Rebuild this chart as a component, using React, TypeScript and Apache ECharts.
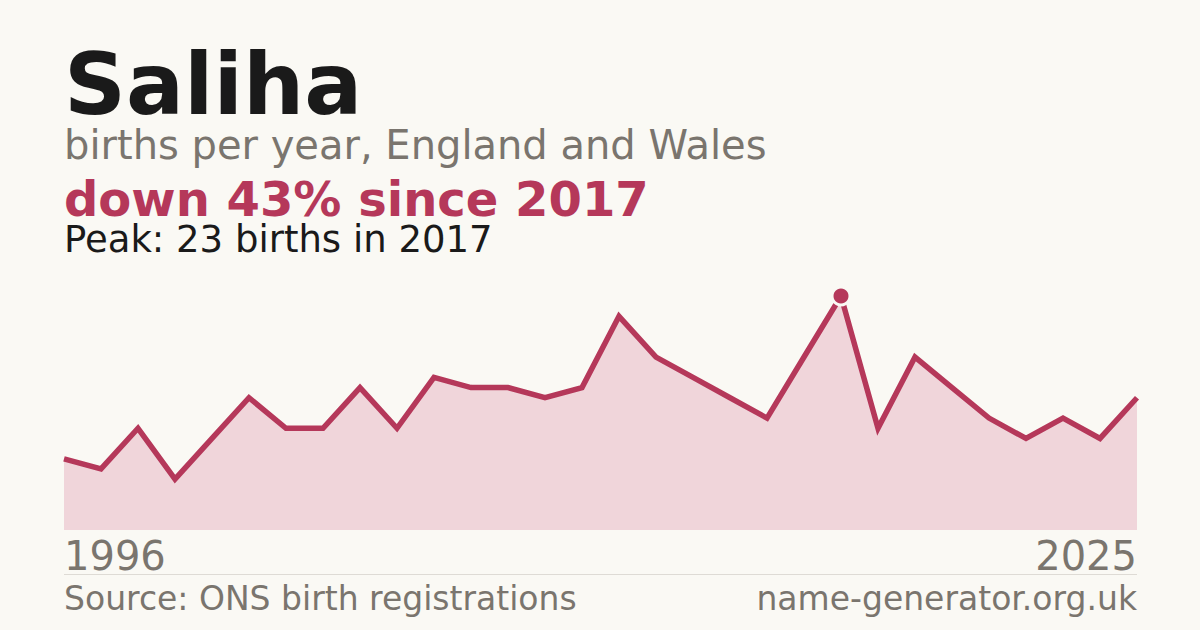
import { useEffect, useRef } from 'react'
import * as echarts from 'echarts'

// data
const years: string[] = []
for (let y = 1996; y <= 2025; y++) years.push(String(y))
const births = [
  7, 6, 10, 5, 9, 13, 10, 10, 14, 10,
  15, 14, 14, 13, 14, 21, 17, 15, 13, 11,
  17, 23, 10, 17, 14, 11, 9, 11, 9, 13
]
const peakYear = '2017'
const peakValue = 23

const BG = '#faf9f4'
const RED = '#b5385a'
const GREY = '#7a756e'
const FONT = "'DejaVu Sans', sans-serif"

// text centred on y (middle of the line box)
const label = (text: string, y: number, size: number, color: string, bold = false, right = false) => {
  const lh = Math.round(size * 0.86)
  return {
    type: 'text',
    ...(right ? { right: 63 } : { left: 64 }),
    top: y - lh / 2,
    style: {
      text,
      font: `${bold ? 'bold ' : ''}${size}px ${FONT}`,
      lineHeight: lh,
      fill: color
    }
  }
}

const App: React.FC = () => {
  const chartRef = useRef<HTMLDivElement | null>(null)

  useEffect(() => {
    if (chartRef.current === null) return
    const chart = echarts.init(chartRef.current, undefined, { renderer: 'svg' })
    chart.setOption({
      animation: false,
      backgroundColor: BG,
      grid: { left: 64, right: 63, top: 296, bottom: 100 },
      xAxis: {
        type: 'category',
        data: years,
        boundaryGap: false,
        show: false
      },
      yAxis: { type: 'value', min: 0, max: peakValue, show: false },
      series: [
        {
          type: 'line',
          data: births,
          symbol: 'none',
          lineStyle: { color: RED, width: 5.5, join: 'miter' },
          areaStyle: { color: '#f0d5da', opacity: 1 },
          z: 2
        },
        {
          type: 'scatter',
          data: [[peakYear, peakValue]],
          symbol: 'circle',
          symbolSize: 18,
          itemStyle: { color: RED, borderColor: BG, borderWidth: 3, opacity: 1 },
          z: 3
        }
      ],
      graphic: [
        label('Saliha', 78, 86, '#1a1a1a', true),
        label('births per year, England and Wales', 142, 40, GREY),
        label('down 43% since 2017', 195, 48, RED, true),
        label('Peak: 23 births in 2017', 237, 37, '#1a1a1a'),
        label(years[0], 553, 40, GREY),
        label(years[years.length - 1], 553, 40, GREY, false, true),
        {
          type: 'line',
          shape: { x1: 64, y1: 574.5, x2: 1137, y2: 574.5 },
          style: { stroke: '#dedbd5', lineWidth: 1 }
        },
        label('Source: ONS birth registrations', 596, 33, GREY),
        label('name-generator.org.uk', 596, 33, GREY, false, true)
      ]
    })
    return () => {
      chart.dispose()
    }
  }, [])

  return (
    <div
      ref={chartRef}
      style={{ position: 'fixed', left: 0, top: 0, width: 1200, height: 630 }}
    ></div>
  )
}

export default App
